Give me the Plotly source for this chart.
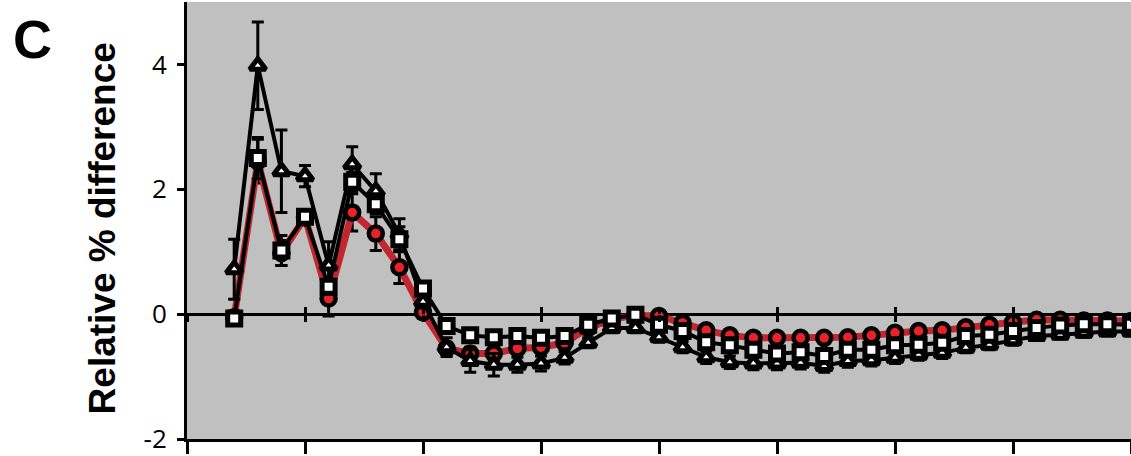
import plotly.graph_objects as go

# x positions (sample index)
x_vals = list(range(2, 41))

# Red circles series
circ_y = [-0.05, 2.45, 0.98, 1.55, 0.25, 1.63, 1.29, 0.75, 0.03, -0.55,
          -0.63, -0.63, -0.55, -0.53, -0.46, -0.22, -0.08, -0.02, -0.03, -0.14,
          -0.26, -0.34, -0.38, -0.38, -0.38, -0.38, -0.37, -0.34, -0.30, -0.27,
          -0.26, -0.21, -0.17, -0.13, -0.09, -0.09, -0.10, -0.10, -0.11]
circ_err = [0.10, 0.35, 0.20, 0.05, 0.28, 0.30, 0.27, 0.26, 0.10, 0.10,
            0.10, 0.10, 0.08, 0.08, 0.08, 0.06, 0.06, 0.06, 0.06, 0.07,
            0.08, 0.08, 0.08, 0.08, 0.08, 0.08, 0.08, 0.07, 0.07, 0.07,
            0.07, 0.06, 0.06, 0.06, 0.05, 0.05, 0.05, 0.05, 0.05]

# White squares series
sq_y = [-0.07, 2.50, 1.02, 1.56, 0.44, 2.12, 1.76, 1.20, 0.41, -0.19,
        -0.34, -0.37, -0.35, -0.38, -0.35, -0.17, -0.07, -0.01, -0.17, -0.27,
        -0.45, -0.50, -0.57, -0.63, -0.61, -0.67, -0.57, -0.57, -0.50, -0.49,
        -0.46, -0.35, -0.33, -0.27, -0.22, -0.18, -0.16, -0.16, -0.17]
sq_err = [0.10, 0.33, 0.24, 0.05, 0.12, 0.15, 0.15, 0.20, 0.08, 0.08,
          0.08, 0.08, 0.08, 0.08, 0.08, 0.06, 0.06, 0.06, 0.07, 0.08,
          0.08, 0.09, 0.09, 0.09, 0.09, 0.09, 0.09, 0.08, 0.08, 0.08,
          0.08, 0.07, 0.07, 0.06, 0.06, 0.06, 0.05, 0.05, 0.05]

# White triangles series
tri_y = [0.72, 3.98, 2.29, 2.21, 0.78, 2.40, 1.97, 1.28, 0.20, -0.53,
         -0.75, -0.81, -0.81, -0.79, -0.70, -0.46, -0.22, -0.22, -0.37, -0.53,
         -0.69, -0.77, -0.79, -0.79, -0.78, -0.83, -0.75, -0.74, -0.70, -0.65,
         -0.62, -0.54, -0.49, -0.42, -0.35, -0.33, -0.30, -0.28, -0.28]
tri_err = [0.48, 0.70, 0.66, 0.17, 0.38, 0.28, 0.28, 0.25, 0.10, 0.15,
           0.18, 0.18, 0.12, 0.12, 0.10, 0.08, 0.08, 0.08, 0.08, 0.09,
           0.10, 0.10, 0.10, 0.10, 0.10, 0.10, 0.10, 0.09, 0.09, 0.09,
           0.09, 0.08, 0.08, 0.08, 0.07, 0.07, 0.07, 0.07, 0.07]

y_ticks = [-2, 0, 2, 4]
y_range = [-2, 5]
x_range = [0, 40]

fig = go.Figure()

err_style = dict(type="data", visible=True, color="black", thickness=3, width=6)

fig.add_trace(go.Scatter(
    x=x_vals, y=circ_y, mode="lines+markers",
    line=dict(color="#c1272d", width=7),
    marker=dict(symbol="circle", size=14, color="#ea2228",
                line=dict(color="black", width=4.5)),
    error_y=dict(array=circ_err, **err_style),
    showlegend=False))

fig.add_trace(go.Scatter(
    x=x_vals, y=tri_y, mode="lines+markers",
    line=dict(color="black", width=4),
    marker=dict(symbol="triangle-up", size=14, color="white",
                line=dict(color="black", width=5)),
    error_y=dict(array=tri_err, **err_style),
    showlegend=False))

fig.add_trace(go.Scatter(
    x=x_vals, y=sq_y, mode="lines+markers",
    line=dict(color="black", width=4),
    marker=dict(symbol="square", size=13, color="white",
                line=dict(color="black", width=5)),
    error_y=dict(array=sq_err, **err_style),
    showlegend=False))

# dummy traces so the zero-line tick axes render
fig.add_trace(go.Scatter(x=[], y=[], xaxis="x2", showlegend=False))
fig.add_trace(go.Scatter(x=[], y=[], xaxis="x3", showlegend=False))

zero_pos = (0 - y_range[0]) / (y_range[1] - y_range[0])

fig.update_layout(
    width=1131, height=456,
    margin=dict(l=187, r=0, t=2, b=12),
    paper_bgcolor="white",
    plot_bgcolor="#c0c0c0",
    xaxis=dict(range=x_range, showline=True, linecolor="black", linewidth=3,
               ticks="outside", ticklen=12, tickwidth=3, tickcolor="black",
               tick0=0, dtick=5, showticklabels=False, showgrid=False,
               zeroline=False),
    xaxis2=dict(range=x_range, overlaying="x", anchor="free", position=zero_pos,
                showline=False, ticks="outside", ticklen=7, tickwidth=3,
                tickcolor="black", tick0=0, dtick=5, showticklabels=False,
                showgrid=False, zeroline=False),
    xaxis3=dict(range=x_range, overlaying="x", anchor="free", position=zero_pos,
                showline=False, ticks="inside", ticklen=7, tickwidth=3,
                tickcolor="black", tick0=0, dtick=5, showticklabels=False,
                showgrid=False, zeroline=False),
    yaxis=dict(range=y_range, showline=True, linecolor="black", linewidth=3,
               ticks="outside", ticklen=7, tickwidth=3, tickcolor="black",
               tickvals=y_ticks, ticktext=[str(v) for v in y_ticks],
               tickfont=dict(family="Open Sans", size=26, color="black"),
               ticklabelstandoff=5, ticklabeloverflow="allow",
               showgrid=False, zeroline=True, zerolinecolor="black",
               zerolinewidth=3),
    annotations=[
        dict(text="<b>Relative % difference</b>", xref="paper", yref="paper",
             x=-0.09, y=0.482, xanchor="center", yanchor="middle",
             textangle=-90, showarrow=False,
             font=dict(family="Liberation Sans", size=37, color="black")),
        dict(text="<b>C</b>", xref="paper", yref="paper",
             x=-0.164, y=0.916, xanchor="center", yanchor="middle",
             showarrow=False,
             font=dict(family="Liberation Sans", size=54, color="black")),
    ],
)

fig.write_html("out.html", config={"displayModeBar": False},
               post_script="document.body.style.margin='0px';")
